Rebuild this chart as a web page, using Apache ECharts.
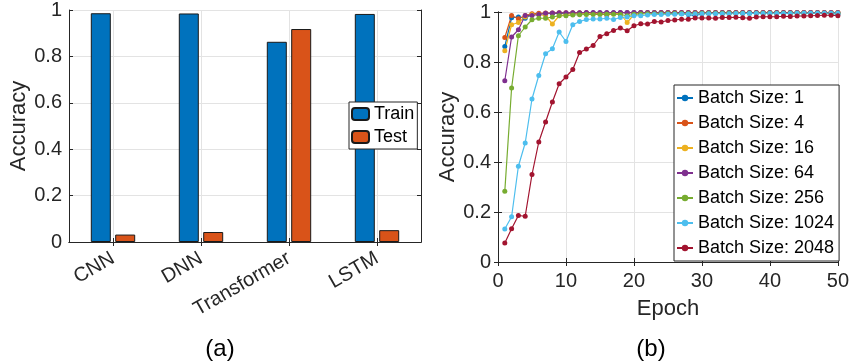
<!DOCTYPE html>
<html>
<head>
<meta charset="utf-8">
<script src="https://cdn.jsdelivr.net/npm/echarts@6/dist/echarts.min.js"></script>
<style>
  html, body { margin: 0; padding: 0; background: #fff; }
  #chart { width: 852px; height: 364px; }
</style>
</head>
<body>
<div id="chart"></div>
<script>
// (a) 各模型的训练 / 测试准确率
const models = ['CNN', 'DNN', 'Transformer', 'LSTM'];
const trainAcc = [0.986, 0.985, 0.863, 0.983];
const testAcc = [0.032, 0.043, 0.918, 0.051];

// (b) 不同 batch size 的训练曲线
const epochs = Array.from({ length: 50 }, (_, i) => i + 1);
const batchNames = ['Batch Size: 1', 'Batch Size: 4', 'Batch Size: 16', 'Batch Size: 64',
    'Batch Size: 256', 'Batch Size: 1024', 'Batch Size: 2048'];
const bs1 = [0.862, 0.977, 0.980, 0.975, 0.990, 0.992, 0.993, 0.994, 0.994, 0.995,
    0.995, 0.995, 0.996, 0.996, 0.996, 0.996, 0.996, 0.997, 0.997, 0.997,
    0.997, 0.997, 0.997, 0.997, 0.997, 0.996, 0.994, 0.990, 0.985, 0.993,
    0.996, 0.997, 0.997, 0.997, 0.997, 0.997, 0.997, 0.997, 0.997, 0.997,
    0.997, 0.997, 0.997, 0.997, 0.997, 0.997, 0.997, 0.996, 0.995, 0.990];
const bs4 = [0.898, 0.986, 0.973, 0.986, 0.993, 0.995, 0.996, 0.996, 0.997, 0.997,
    0.997, 0.997, 0.997, 0.996, 0.993, 0.988, 0.995, 0.997, 0.997, 0.997,
    0.998, 0.998, 0.998, 0.998, 0.998, 0.998, 0.998, 0.998, 0.998, 0.998,
    0.998, 0.998, 0.998, 0.998, 0.998, 0.998, 0.998, 0.998, 0.998, 0.998,
    0.998, 0.998, 0.998, 0.998, 0.998, 0.998, 0.998, 0.998, 0.998, 0.998];
const bs16 = [0.845, 0.949, 0.958, 0.980, 0.990, 0.990, 0.985, 0.952, 0.985, 0.990,
    0.993, 0.994, 0.995, 0.995, 0.996, 0.996, 0.996, 0.993, 0.958, 0.990,
    0.996, 0.997, 0.997, 0.997, 0.997, 0.998, 0.998, 0.998, 0.998, 0.998,
    0.998, 0.998, 0.998, 0.998, 0.998, 0.998, 0.998, 0.998, 0.998, 0.998,
    0.998, 0.998, 0.998, 0.998, 0.998, 0.998, 0.998, 0.998, 0.998, 0.998];
const bs64 = [0.725, 0.900, 0.929, 0.986, 0.986, 0.990, 0.995, 0.996, 0.997, 0.997,
    0.997, 0.997, 0.998, 0.998, 0.998, 0.998, 0.998, 0.998, 0.998, 0.998,
    0.998, 0.998, 0.998, 0.998, 0.998, 0.998, 0.998, 0.998, 0.998, 0.998,
    0.998, 0.998, 0.998, 0.998, 0.998, 0.998, 0.998, 0.998, 0.998, 0.998,
    0.998, 0.998, 0.998, 0.998, 0.998, 0.998, 0.998, 0.998, 0.998, 0.998];
const bs256 = [0.283, 0.696, 0.905, 0.940, 0.969, 0.975, 0.975, 0.980, 0.985, 0.985,
    0.988, 0.989, 0.990, 0.990, 0.990, 0.991, 0.991, 0.990, 0.985, 0.991,
    0.992, 0.993, 0.993, 0.993, 0.994, 0.994, 0.994, 0.994, 0.994, 0.995,
    0.995, 0.995, 0.995, 0.995, 0.995, 0.995, 0.995, 0.995, 0.995, 0.995,
    0.995, 0.995, 0.995, 0.995, 0.995, 0.995, 0.995, 0.995, 0.995, 0.995];
const bs1024 = [0.132, 0.181, 0.383, 0.476, 0.652, 0.746, 0.833, 0.853, 0.920, 0.882,
    0.949, 0.962, 0.970, 0.972, 0.972, 0.975, 0.970, 0.978, 0.980, 0.985,
    0.985, 0.988, 0.990, 0.990, 0.991, 0.991, 0.992, 0.992, 0.992, 0.993,
    0.993, 0.993, 0.993, 0.993, 0.994, 0.994, 0.994, 0.994, 0.994, 0.994,
    0.994, 0.994, 0.994, 0.995, 0.995, 0.995, 0.995, 0.995, 0.995, 0.995];
const bs2048 = [0.076, 0.133, 0.186, 0.183, 0.350, 0.480, 0.560, 0.640, 0.713, 0.740,
    0.770, 0.838, 0.852, 0.866, 0.902, 0.913, 0.926, 0.936, 0.925, 0.945,
    0.953, 0.952, 0.962, 0.960, 0.966, 0.968, 0.971, 0.971, 0.976, 0.976,
    0.976, 0.975, 0.978, 0.978, 0.979, 0.977, 0.975, 0.980, 0.981, 0.981,
    0.981, 0.983, 0.982, 0.984, 0.984, 0.985, 0.986, 0.987, 0.987, 0.985];
const batchData = [bs1, bs4, bs16, bs64, bs256, bs1024, bs2048];
const batchColors = ['#0072BD', '#D95319', '#EDB120', '#7E2F8E', '#77AC30', '#4DBEEE', '#A2142F'];

const FONT = 'Liberation Sans, Arial, sans-serif';
const INK = '#262626';
const GRID = '#e3e3e3';

const chart = echarts.init(document.getElementById('chart'));

// 坐标轴框（MATLAB 风格，刻度朝内）
function boxAxis(gridIndex, extra) {
    return Object.assign({
        gridIndex: gridIndex,
        axisLine: { show: true, lineStyle: { color: INK, width: 1 } },
        axisTick: { show: true, inside: true, length: 4, lineStyle: { color: INK } },
        axisLabel: { show: false },
        splitLine: { show: false }
    }, extra);
}

const yTick = {
    color: INK, fontSize: 20, fontFamily: FONT, margin: 7,
    formatter: v => (v === 0 || v === 1) ? String(v) : v.toFixed(1)
};

const option = {
    animation: false,
    backgroundColor: '#fff',
    textStyle: { fontFamily: FONT },
    title: [
        { text: '(a)', left: 215, top: 332, textAlign: 'center',
          textStyle: { fontSize: 24, fontWeight: 'normal', color: '#000', fontFamily: FONT } },
        { text: '(b)', left: 646, top: 332, textAlign: 'center',
          textStyle: { fontSize: 24, fontWeight: 'normal', color: '#000', fontFamily: FONT } }
    ],
    grid: [
        { left: 69, right: 431, top: 9, bottom: 122 },
        { left: 498, right: 12, top: 12, bottom: 102 }
    ],
    legend: [
        {
            data: ['Train', 'Test'],
            orient: 'vertical', left: 349, top: 102,
            padding: [3, 3, 3, 2], itemGap: 5,
            itemWidth: 17, itemHeight: 12,
            borderColor: INK, borderWidth: 1, backgroundColor: '#fff',
            textStyle: { fontSize: 18, color: '#000', fontFamily: FONT }
        },
        {
            data: batchNames,
            orient: 'vertical', left: 674, top: 85,
            padding: [4, 5, 4, 2], itemGap: 7,
            itemWidth: 16, itemHeight: 8,
            borderColor: INK, borderWidth: 1, backgroundColor: '#fff',
            textStyle: { fontSize: 18, color: '#000', fontFamily: FONT }
        }
    ],
    xAxis: [
        boxAxis(0, {
            type: 'category', data: models, position: 'bottom',
            axisTick: { show: true, inside: true, length: 4, alignWithLabel: true, lineStyle: { color: INK } },
            axisLabel: { show: true, rotate: 30, interval: 0, margin: 15, color: INK, fontSize: 20, fontFamily: FONT },
            splitLine: { show: true, alignWithLabel: true, interval: 0, lineStyle: { color: GRID } }
        }),
        boxAxis(0, {
            type: 'category', data: models, position: 'top',
            axisTick: { show: true, inside: true, length: 4, alignWithLabel: true, lineStyle: { color: INK } }
        }),
        boxAxis(1, {
            type: 'value', min: 0, max: 50, interval: 10, position: 'bottom',
            name: 'Epoch', nameLocation: 'middle', nameGap: 36,
            nameTextStyle: { fontSize: 22, color: INK, fontFamily: FONT },
            axisLabel: { show: true, color: INK, fontSize: 20, fontFamily: FONT, margin: 9 },
            splitLine: { show: true, lineStyle: { color: GRID } }
        }),
        boxAxis(1, { type: 'value', min: 0, max: 50, interval: 10, position: 'top' })
    ],
    yAxis: [
        boxAxis(0, {
            type: 'value', min: 0, max: 1, interval: 0.2, position: 'left',
            name: 'Accuracy', nameLocation: 'middle', nameGap: 36,
            nameTextStyle: { fontSize: 22, color: INK, fontFamily: FONT },
            axisLabel: Object.assign({ show: true }, yTick),
            splitLine: { show: true, lineStyle: { color: GRID } }
        }),
        boxAxis(0, { type: 'value', min: 0, max: 1, interval: 0.2, position: 'right' }),
        boxAxis(1, {
            type: 'value', min: 0, max: 1, interval: 0.2, position: 'left',
            name: 'Accuracy', nameLocation: 'middle', nameGap: 35,
            nameTextStyle: { fontSize: 22, color: INK, fontFamily: FONT },
            axisLabel: Object.assign({ show: true }, yTick),
            splitLine: { show: true, lineStyle: { color: GRID } }
        }),
        boxAxis(1, { type: 'value', min: 0, max: 1, interval: 0.2, position: 'right' })
    ],
    series: [
        {
            name: 'Train', type: 'bar', xAxisIndex: 0, yAxisIndex: 0,
            data: trainAcc, barWidth: 20, barGap: '22%',
            itemStyle: { color: '#0072BD', borderColor: '#1a1a1a', borderWidth: 1 }
        },
        {
            name: 'Test', type: 'bar', xAxisIndex: 0, yAxisIndex: 0,
            data: testAcc, barWidth: 20, barGap: '22%',
            itemStyle: { color: '#D95319', borderColor: '#1a1a1a', borderWidth: 1 }
        }
    ].concat(batchNames.map((name, i) => ({
        name: name, type: 'line', xAxisIndex: 2, yAxisIndex: 2,
        data: epochs.map((e, j) => [e, batchData[i][j]]),
        symbol: 'circle', symbolSize: 5,
        lineStyle: { color: batchColors[i], width: 1.2 },
        itemStyle: { color: batchColors[i] }
    })))
};

chart.setOption(option);
window.addEventListener('resize', function () {
    chart.resize();
});
</script>
</body>
</html>
